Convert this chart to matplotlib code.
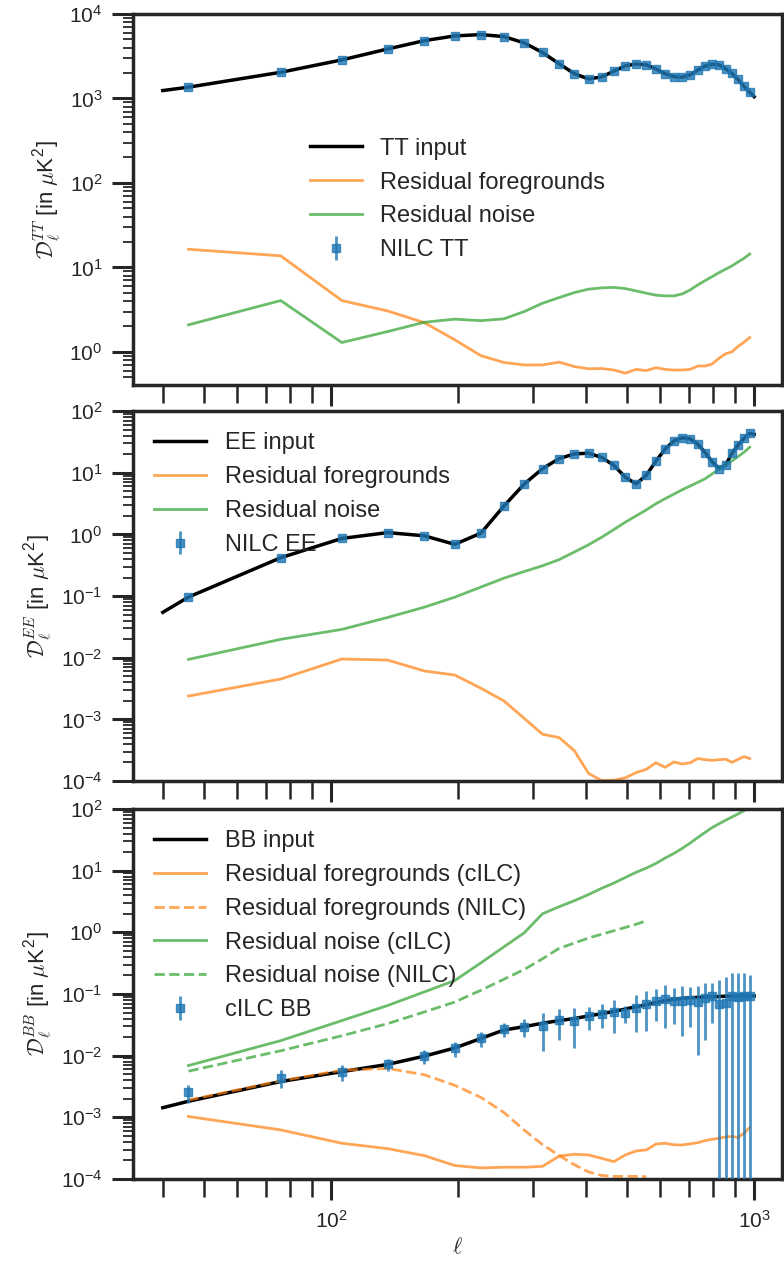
import matplotlib
matplotlib.use('Agg')
import matplotlib.pyplot as plt

plt.rcParams['font.family'] = ['Liberation Sans', 'DejaVu Sans']
plt.rcParams['mathtext.fontset'] = 'cm'
plt.rcParams['text.color'] = '#262626'
plt.rcParams['axes.labelcolor'] = '#262626'
plt.rcParams['xtick.color'] = '#262626'
plt.rcParams['ytick.color'] = '#262626'
plt.rcParams['axes.edgecolor'] = '#262626'

# bin centres of the measured spectra
ell_bins = [46, 76, 106, 136, 166, 196, 226, 256, 286, 316, 346, 376, 406, 436, 466, 496,
            526, 556, 586, 616, 646, 676, 706, 736, 766, 796, 826, 856, 886, 916, 946, 976]
# ell values of the input (theory) curves
ell_theory = [40] + ell_bins + [1000]
# NILC B-mode residuals only go up to ~550
ell_nilc_bb = ell_bins[:18]

# ---- TT ----
tt_input = [1240, 1360, 2040, 2860, 3850, 4830, 5500, 5700, 5400, 4550, 3500, 2570, 1960,
            1700, 1800, 2100, 2430, 2560, 2500, 2230, 1960, 1810, 1780, 1900, 2170, 2420,
            2540, 2500, 2250, 1980, 1680, 1390, 1190, 1050]
tt_nilc = [1360, 2040, 2860, 3850, 4830, 5500, 5700, 5400, 4550, 3500, 2570, 1960,
           1700, 1800, 2100, 2430, 2560, 2500, 2230, 1960, 1810, 1780, 1900, 2170, 2420,
           2540, 2500, 2250, 1980, 1680, 1390, 1190]
tt_err = [0.0] * 32
tt_fg = [16.4, 13.7, 4.05, 3.05, 2.22, 1.39, 0.90, 0.75, 0.70, 0.70, 0.755, 0.67, 0.63,
         0.635, 0.61, 0.56, 0.62, 0.60, 0.65, 0.62, 0.61, 0.61, 0.62, 0.68, 0.68, 0.72,
         0.84, 0.95, 1.0, 1.16, 1.30, 1.48]
tt_noise = [2.09, 4.05, 1.29, 1.74, 2.24, 2.44, 2.34, 2.46, 3.00, 3.77, 4.39, 5.04, 5.52,
            5.72, 5.80, 5.61, 5.27, 4.95, 4.69, 4.60, 4.60, 4.85, 5.42, 6.21, 6.98, 7.79,
            8.68, 9.52, 10.4, 11.6, 12.8, 14.4]

# ---- EE ----
ee_input = [0.0545, 0.0964, 0.419, 0.861, 1.07, 0.95, 0.69, 1.05, 2.88, 6.55, 11.65, 17.0,
            20.2, 20.8, 17.7, 13.2, 8.45, 6.6, 9.1, 15.5, 24.2, 32.8, 37.0, 35.5, 29.0,
            21.2, 15.0, 11.7, 13.3, 20.6, 28.1, 36.0, 43.5, 41.9]
ee_nilc = [0.0964, 0.419, 0.861, 1.07, 0.95, 0.69, 1.05, 2.88, 6.55, 11.65, 17.0,
           20.2, 20.8, 17.7, 13.2, 8.45, 6.6, 9.1, 15.5, 24.2, 32.8, 37.0, 35.5, 29.0,
           21.2, 15.0, 11.7, 13.3, 20.6, 28.1, 36.0, 43.5]
ee_err = [0.0] * 32
ee_fg = [0.00239, 0.00451, 0.00953, 0.00917, 0.0061, 0.00524, 0.0032, 0.0020, 0.00104,
         0.000575, 0.000507, 0.000309, 0.000133, 0.000102, 0.000103, 0.000113, 0.000137,
         0.000155, 0.000198, 0.000167, 0.000204, 0.000189, 0.000198, 0.000232, 0.000222,
         0.000217, 0.000222, 0.000226, 0.000201, 0.000225, 0.000249, 0.000232]
ee_noise = [0.0094, 0.0199, 0.0288, 0.045, 0.066, 0.096, 0.14, 0.195, 0.25, 0.31, 0.39,
            0.52, 0.68, 0.90, 1.20, 1.58, 2.0, 2.5, 3.15, 3.8, 4.5, 5.3, 6.1, 7.0, 8.0,
            9.6, 11.3, 13.3, 15.6, 18.3, 21.5, 26.0]

# ---- BB ----
bb_input = [0.00143, 0.00182, 0.0038, 0.0055, 0.0072, 0.0098, 0.0133, 0.019, 0.026, 0.0295,
            0.0335, 0.037, 0.040, 0.044, 0.048, 0.052, 0.057, 0.062, 0.067, 0.073, 0.078,
            0.082, 0.085, 0.087, 0.088, 0.089, 0.090, 0.091, 0.092, 0.092, 0.093, 0.093,
            0.093, 0.093]
bb_cilc = [0.00253, 0.0044, 0.0055, 0.0072, 0.0099, 0.0132, 0.0191, 0.0267, 0.0295, 0.0303,
           0.0380, 0.0363, 0.044, 0.048, 0.051, 0.049, 0.060, 0.069, 0.078, 0.084, 0.078,
           0.078, 0.080, 0.0733, 0.085, 0.093, 0.069, 0.072, 0.093, 0.088, 0.091, 0.091]
bb_err = [0.00083, 0.00146, 0.0016, 0.0016, 0.0025, 0.0037, 0.0054, 0.0068, 0.0094, 0.0183,
          0.020, 0.023, 0.018, 0.020, 0.028, 0.015, 0.036, 0.044, 0.041, 0.056, 0.046,
          0.057, 0.051, 0.063, 0.067, 0.059, 0.100, 0.119, 0.129, 0.134, 0.125, 0.113]
bb_fg_cilc = [0.00103, 0.000624, 0.000379, 0.000310, 0.000239, 0.000165, 0.000151, 0.000155,
              0.000155, 0.000160, 0.000235, 0.000251, 0.000245, 0.000216, 0.000191, 0.000245,
              0.000284, 0.000296, 0.000368, 0.000379, 0.000358, 0.000355, 0.00037, 0.000388,
              0.000418, 0.000440, 0.000456, 0.00048, 0.00049, 0.00047, 0.00055, 0.00068]
bb_fg_nilc = [0.0019, 0.0039, 0.0058, 0.0062, 0.0049, 0.0033, 0.0021, 0.0012, 0.00062,
              0.00036, 0.00024, 0.00017, 0.00013, 0.000114, 0.000110, 0.000110, 0.000110,
              0.000109]
bb_noise_cilc = [0.0069, 0.0175, 0.037, 0.065, 0.108, 0.165, 0.32, 0.58, 0.98, 2.0, 2.6,
                 3.26, 4.1, 5.17, 6.3, 7.75, 9.4, 11.0, 13.1, 16.0, 19.0, 23.0, 28.0, 34.6,
                 41.8, 50.0, 57.6, 65.6, 74.0, 83.0, 94.0, 105.0]
bb_noise_nilc = [0.0056, 0.012, 0.021, 0.033, 0.051, 0.074, 0.115, 0.173, 0.25, 0.372,
                 0.55, 0.67, 0.81, 0.93, 1.06, 1.20, 1.35, 1.54]

orange = '#ff7f0e'
green = '#2ca02c'
blue = '#1f77b4'

fig = plt.figure(figsize=(7.84, 12.7), dpi=100)
ax1 = fig.add_axes([0.1696, 0.6969, 0.8279, 0.2921])
ax2 = fig.add_axes([0.1696, 0.3850, 0.8279, 0.2913])
ax3 = fig.add_axes([0.1696, 0.0717, 0.8279, 0.2913])

lw = 2.0


def style(ax, ylim, label, bottom_labels):
    ax.set_xscale('log')
    ax.set_yscale('log')
    ax.set_xlim(34, 1164)
    ax.set_ylim(*ylim)
    for s in ax.spines.values():
        s.set_linewidth(2.5)
    ax.tick_params(which='major', direction='out', length=15, width=2.2, labelsize=15, pad=7)
    ax.tick_params(axis='y', which='minor', direction='out', length=7, width=1.3)
    ax.tick_params(axis='x', which='minor', direction='out', length=13, width=1.8)
    ax.tick_params(axis='x', labelbottom=bottom_labels)
    ax.set_ylabel(label, fontsize=16)


def points(ax, y, err, lab):
    ax.errorbar(ell_bins, y, yerr=err, fmt='s', color=blue, ms=5.5, elinewidth=2,
                capsize=0, alpha=0.8, label=lab, zorder=5)


# TT
ax1.plot(ell_theory, tt_input, color='black', lw=2.5, label='TT input')
ax1.plot(ell_bins, tt_fg, color=orange, alpha=0.7, lw=lw, label='Residual foregrounds')
ax1.plot(ell_bins, tt_noise, color=green, alpha=0.7, lw=lw, label='Residual noise')
points(ax1, tt_nilc, tt_err, 'NILC TT')
style(ax1, (0.406, 1e4), r'$\mathcal{D}_\ell^{TT}$ [in $\mu$K$^{\mathdefault{2}}$]', False)
ax1.legend(loc='center', frameon=False, fontsize=17, handlelength=2.2)

# EE
ax2.plot(ell_theory, ee_input, color='black', lw=2.5, label='EE input')
ax2.plot(ell_bins, ee_fg, color=orange, alpha=0.7, lw=lw, label='Residual foregrounds')
ax2.plot(ell_bins, ee_noise, color=green, alpha=0.7, lw=lw, label='Residual noise')
points(ax2, ee_nilc, ee_err, 'NILC EE')
style(ax2, (1e-4, 1e2), r'$\mathcal{D}_\ell^{EE}$ [in $\mu$K$^{\mathdefault{2}}$]', False)
ax2.legend(loc='upper left', frameon=False, fontsize=17, handlelength=2.2)

# BB
ax3.plot(ell_theory, bb_input, color='black', lw=2.5, label='BB input')
ax3.plot(ell_bins, bb_fg_cilc, color=orange, alpha=0.7, lw=lw,
         label='Residual foregrounds (cILC)')
ax3.plot(ell_nilc_bb, bb_fg_nilc, color=orange, alpha=0.7, lw=lw, ls='--',
         label='Residual foregrounds (NILC)')
ax3.plot(ell_bins, bb_noise_cilc, color=green, alpha=0.7, lw=lw,
         label='Residual noise (cILC)')
ax3.plot(ell_nilc_bb, bb_noise_nilc, color=green, alpha=0.7, lw=lw, ls='--',
         label='Residual noise (NILC)')
points(ax3, bb_cilc, bb_err, 'cILC BB')
style(ax3, (1e-4, 1e2), r'$\mathcal{D}_\ell^{BB}$ [in $\mu$K$^{\mathdefault{2}}$]', True)
ax3.set_xlabel(r'$\ell$', fontsize=16)
ax3.legend(loc='upper left', frameon=False, fontsize=17, handlelength=2.2)

fig.savefig('out.png', dpi=100)
